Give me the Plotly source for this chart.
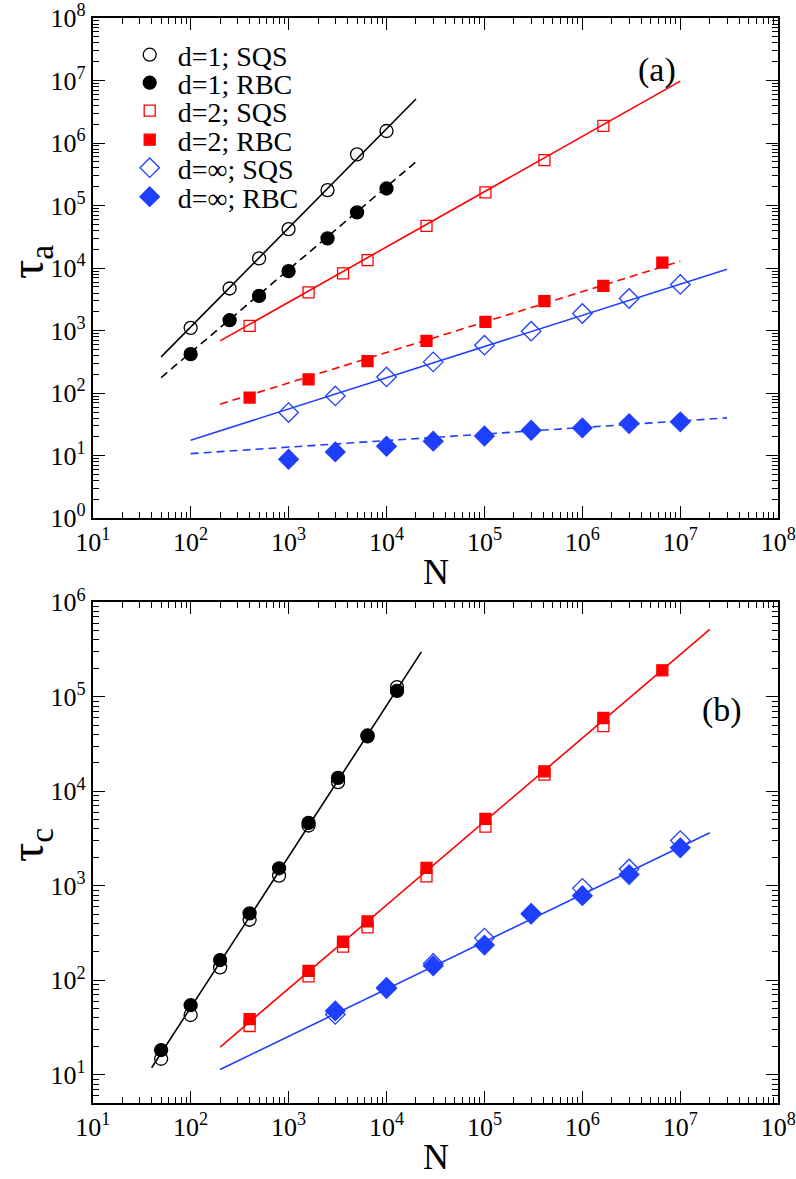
import plotly.graph_objects as go

# ---------------- data: panel (a) tau_a ----------------
N_d1 = [100, 250, 500, 1000, 2500, 5000, 10000]
tauA_d1_sqs = [1110, 4730, 14300, 42100, 177000, 659000, 1560000]
tauA_d1_rbc = [421, 1470, 3600, 8950, 29900, 77900, 188000]
fitA_d1_x = [50, 20000]
fitA_d1_sqs_y = [381, 5.06e6]
fitA_d1_rbc_y = [178, 5.02e5]

N_d2_sqs = [400, 1600, 3600, 6400, 25600, 102400, 409600, 1638400]
tauA_d2_sqs = [1190, 4090, 8230, 13400, 47500, 163000, 535000, 1890000]
N_d2_rbc = [400, 1600, 6400, 25600, 102400, 409600, 1638400, 6553600]
tauA_d2_rbc = [85, 166, 325, 687, 1380, 2960, 5210, 12300]
fitA_d2_x = [200, 1e7]
fitA_d2_sqs_y = [687, 9.8e6]
fitA_d2_rbc_y = [66.7, 12900]

N_inf = [1000, 3000, 1e4, 3e4, 1e5, 3e5, 1e6, 3e6, 1e7]
tauA_inf_sqs = [49, 90.5, 182, 317, 586, 982, 1884, 3275, 5490]
tauA_inf_rbc = [8.8, 11.5, 14.2, 17.1, 20.7, 25.6, 27.9, 32.7, 34.8]
fitA_inf_x = [100, 3e7]
fitA_inf_sqs_y = [17.7, 9640]
fitA_inf_rbc_y = [10.8, 40.3]

# ---------------- data: panel (b) tau_c ----------------
N_d1_b = [50, 100, 200, 400, 800, 1600, 3200, 6400, 12800]
tauC_d1_sqs = [14.8, 43, 137, 438, 1283, 4350, 12500, 39000, 127000]
tauC_d1_rbc = [18.3, 54.6, 164, 511, 1534, 4645, 13900, 38200, 115500]
fitC_d1_x = [40, 22700]
fitC_d1_y = [11.9, 299000]

N_d2_b_sqs = [400, 1600, 3600, 6400, 25600, 102400, 409600, 1638400]
tauC_d2_sqs = [32.9, 110, 228, 363, 1262, 4244, 15000, 49100]
N_d2_b_rbc = [400, 1600, 3600, 6400, 25600, 102400, 409600, 1638400, 6553600]
tauC_d2_rbc = [38.8, 126, 256, 420, 1549, 5120, 16260, 59700, 191000]
fitC_d2_x = [200, 2e7]
fitC_d2_y = [19.7, 517000]

N_inf_b = [3000, 1e4, 3e4, 1e5, 3e5, 1e6, 3e6, 1e7]
tauC_inf_sqs = [43.6, 82, 151, 280, 510, 941, 1510, 3015]
tauC_inf_rbc = [47.5, 84, 142.5, 236, 504, 787, 1315, 2523]
fitC_inf_x = [200, 2e7]
fitC_inf_y = [11.4, 3640]

legend_names = ["d=1; SQS", "d=1; RBC", "d=2; SQS", "d=2; RBC", "d=\u221e; SQS", "d=\u221e; RBC"]
x_exps = [1, 2, 3, 4, 5, 6, 7, 8]
ya_exps = [0, 1, 2, 3, 4, 5, 6, 7, 8]
yb_exps = [1, 2, 3, 4, 5, 6]

# ---------------- styling ----------------
BLACK = "#000000"
RED = "#ff0000"
BLUE = "#1f3fff"
FONT = "Liberation Serif"
W, H = 796, 1179

fig = go.Figure()


def line(x, y, color, dash, xa, ya):
    fig.add_trace(go.Scatter(x=x, y=y, mode="lines", xaxis=xa, yaxis=ya,
                             line=dict(color=color, width=1.6, dash=dash),
                             showlegend=False, hoverinfo="skip"))


def pts(x, y, color, symbol, size, filled, xa, ya, name=None, legend=None):
    kw = dict(legend=legend) if legend else {}
    fig.add_trace(go.Scatter(
        x=x, y=y, mode="markers", xaxis=xa, yaxis=ya, name=name,
        showlegend=name is not None,
        marker=dict(symbol=symbol if filled else symbol + "-open", size=size,
                    color=color, line=dict(color=color, width=1.3)), **kw))


DASH = "8px,5px"
# panel (a)
line(fitA_d1_x, fitA_d1_sqs_y, BLACK, "solid", "x", "y")
line(fitA_d1_x, fitA_d1_rbc_y, BLACK, DASH, "x", "y")
line(fitA_d2_x, fitA_d2_sqs_y, RED, "solid", "x", "y")
line(fitA_d2_x, fitA_d2_rbc_y, RED, DASH, "x", "y")
line(fitA_inf_x, fitA_inf_sqs_y, BLUE, "solid", "x", "y")
line(fitA_inf_x, fitA_inf_rbc_y, BLUE, DASH, "x", "y")
pts(N_d1, tauA_d1_sqs, BLACK, "circle", 13, False, "x", "y", legend_names[0], "legend")
pts(N_d1, tauA_d1_rbc, BLACK, "circle", 13, True, "x", "y", legend_names[1], "legend2")
pts(N_d2_sqs, tauA_d2_sqs, RED, "square", 11, False, "x", "y", legend_names[2], "legend3")
pts(N_d2_rbc, tauA_d2_rbc, RED, "square", 11, True, "x", "y", legend_names[3], "legend4")
pts(N_inf, tauA_inf_sqs, BLUE, "diamond", 15, False, "x", "y", legend_names[4], "legend5")
pts(N_inf, tauA_inf_rbc, BLUE, "diamond", 15, True, "x", "y", legend_names[5], "legend6")

# panel (b)
line(fitC_d1_x, fitC_d1_y, BLACK, "solid", "x2", "y2")
line(fitC_d2_x, fitC_d2_y, RED, "solid", "x2", "y2")
line(fitC_inf_x, fitC_inf_y, BLUE, "solid", "x2", "y2")
pts(N_d1_b, tauC_d1_sqs, BLACK, "circle", 13, False, "x2", "y2")
pts(N_d1_b, tauC_d1_rbc, BLACK, "circle", 13, True, "x2", "y2")
pts(N_d2_b_sqs, tauC_d2_sqs, RED, "square", 11, False, "x2", "y2")
pts(N_d2_b_rbc, tauC_d2_rbc, RED, "square", 11, True, "x2", "y2")
pts(N_inf_b, tauC_inf_sqs, BLUE, "diamond", 15, False, "x2", "y2")
pts(N_inf_b, tauC_inf_rbc, BLUE, "diamond", 15, True, "x2", "y2")


def minor_vals(e0, e1, extra=()):
    v = list(extra)
    for e in range(e0, e1):
        for k in range(2, 10):
            v.append(k * 10 ** e)
    return v


def axis(exps, rng, domain, anchor, minors):
    return dict(
        type="log", range=rng, domain=domain, anchor=anchor, automargin=False,
        tickmode="array", tickvals=[10 ** e for e in exps],
        ticktext=["10<sup>%d</sup>" % e for e in exps],
        ticks="inside", ticklen=12, tickwidth=1.3, tickcolor=BLACK,
        ticklabeloverflow="allow",
        minor=dict(tickmode="array", tickvals=minors, ticks="inside",
                   ticklen=6, tickwidth=1.1, tickcolor=BLACK, showgrid=False),
        showline=True, linecolor=BLACK, linewidth=1.8, mirror="ticks",
        showgrid=False, zeroline=False,
        tickfont=dict(family=FONT, size=26, color=BLACK),
    )


XD = [92.7 / W, 778.3 / W]
YA = [1 - 518.3 / H, 1 - 18 / H]
YB = [1 - 1103.3 / H, 1 - 602.3 / H]


def leg(ypx):
    return dict(x=121.7 / W, y=1 - ypx / H, xanchor="left", yanchor="middle",
                bgcolor="rgba(0,0,0,0)", borderwidth=0, itemwidth=46,
                font=dict(family=FONT, size=28, color=BLACK))


def ann(text, xpx, ypx, size, angle=0):
    return dict(text=text, x=xpx / W, y=1 - ypx / H, xref="paper", yref="paper",
                xanchor="center", yanchor="middle", showarrow=False, textangle=angle,
                font=dict(family=FONT, size=size, color=BLACK))


fig.update_layout(
    width=W, height=H,
    margin=dict(l=0, r=0, t=0, b=0),
    paper_bgcolor="white", plot_bgcolor="white",
    xaxis=axis(x_exps, [1, 8.0005], XD, "y", minor_vals(1, 8)),
    yaxis=axis(ya_exps, [-0.0005, 8.0005], YA, "x", minor_vals(0, 8)),
    xaxis2=axis(x_exps, [1, 8.0005], XD, "y2", minor_vals(1, 8)),
    yaxis2=axis(yb_exps, [0.699, 6.0005], YB, "x2", minor_vals(1, 6, extra=[6, 7, 8, 9])),
    legend=leg(55), legend2=leg(83), legend3=leg(111),
    legend4=leg(140), legend5=leg(168), legend6=leg(197),
    showlegend=True,
    annotations=[
        ann("(a)", 657, 70, 34),
        ann("(b)", 722, 710, 34),
        ann("N", 435.5, 572, 36),
        ann("N", 435.5, 1157, 36),
        ann("\u03c4<sub>a</sub>", 30, 262, 48, -90),
        ann("\u03c4<sub>c</sub>", 30, 845, 48, -90),
    ],
)

fig.write_html("out.html", config={"displayModeBar": False},
               post_script="document.body.style.margin='0';document.body.style.overflow='hidden';")
